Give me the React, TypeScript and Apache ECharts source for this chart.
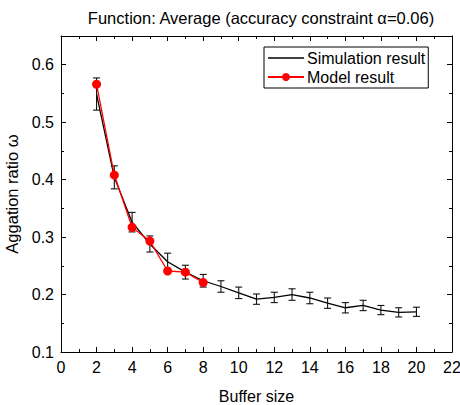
import React, { useEffect, useRef } from "react";
import * as echarts from "echarts";

const bufferSizes = [2, 3, 4, 5, 6, 7, 8, 9, 10, 11, 12, 13, 14, 15, 16, 17, 18, 19, 20];
const simulation = [0.549, 0.404, 0.326, 0.288, 0.257, 0.239, 0.224, 0.214, 0.203, 0.192, 0.195, 0.2, 0.194, 0.185, 0.177, 0.181, 0.173, 0.169, 0.17];
const simError = [0.028, 0.02, 0.017, 0.014, 0.015, 0.012, 0.011, 0.01, 0.01, 0.009, 0.009, 0.01, 0.01, 0.009, 0.009, 0.009, 0.008, 0.008, 0.008];
const modelSizes = [2, 3, 4, 5, 6, 7, 8];
const model = [0.566, 0.408, 0.317, 0.293, 0.241, 0.239, 0.221];

const FONT = "Liberation Sans, Arial, sans-serif";

export default function App() {
  const ref = useRef<HTMLDivElement>(null);
  useEffect(() => {
    if (!ref.current) return;
    const chart = echarts.init(ref.current, undefined, { renderer: "svg" });
    const axisCommon = {
      axisLine: { show: true, onZero: false, lineStyle: { color: "#000", width: 1 } },
      axisTick: { show: true, inside: true, length: 5, lineStyle: { color: "#000" } },
      minorTick: { show: true, splitNumber: 2, length: 3, lineStyle: { color: "#000" } },
      splitLine: { show: false },
    };
    chart.setOption({
      animation: false,
      backgroundColor: "#fff",
      title: {
        text: "Function: Average (accuracy constraint α=0.06)",
        left: 256,
        top: 4,
        textAlign: "center",
        textStyle: { fontFamily: FONT, fontSize: 16.5, fontWeight: "normal", color: "#000" },
      },
      legend: {
        orient: "vertical",
        left: 264,
        top: 47,
        borderColor: "#000",
        borderWidth: 1,
        borderRadius: 0,
        padding: [3, 3, 3, 3],
        itemGap: 3,
        itemWidth: 36,
        itemHeight: 10,
        textStyle: { fontFamily: FONT, fontSize: 16, color: "#000", padding: [0, 0, 0, -2] },
        data: [
          {
            name: "Simulation result",
            itemStyle: { color: "rgba(0,0,0,0)", borderColor: "rgba(0,0,0,0)", borderWidth: 0 },
            lineStyle: { color: "#000", width: 1.3 },
          },
          { name: "Model result" },
        ],
      },
      grid: { left: 61, right: 8, top: 36, bottom: 53, containLabel: false, outerBoundsMode: "none" },
      xAxis: [
        {
          type: "value",
          min: 0,
          max: 22,
          interval: 2,
          name: "Buffer size",
          nameLocation: "middle",
          nameGap: 36,
          nameTextStyle: { fontFamily: FONT, fontSize: 16, color: "#000" },
          axisLabel: { fontFamily: FONT, fontSize: 16, color: "#000", margin: 7 },
          ...axisCommon,
        },
        {
          type: "value",
          position: "top",
          min: 0,
          max: 22,
          interval: 2,
          axisLabel: { show: false },
          ...axisCommon,
        },
      ],
      yAxis: [
        {
          type: "value",
          min: 0.1,
          max: 0.65,
          interval: 0.1,
          name: "Aggation ratio ω",
          nameLocation: "middle",
          nameGap: 33,
          nameTextStyle: { fontFamily: FONT, fontSize: 16.5, color: "#000" },
          axisLabel: {
            fontFamily: FONT,
            fontSize: 16,
            color: "#000",
            margin: 7,
            formatter: (v: number) => (v > 0.62 ? "" : v.toFixed(1)),
          },
          ...axisCommon,
        },
        {
          type: "value",
          position: "right",
          min: 0.1,
          max: 0.65,
          interval: 0.1,
          axisLabel: { show: false },
          ...axisCommon,
        },
      ],
      series: [
        {
          name: "Simulation result",
          type: "line",
          data: bufferSizes.map((x, i) => [x, simulation[i]]),
          showSymbol: false,
          symbol: "none",
          lineStyle: { color: "#000", width: 1.3 },
          itemStyle: { color: "#000" },
          z: 2,
        },
        {
          name: "errors",
          type: "custom",
          data: bufferSizes.map((x, i) => [x, simulation[i] - simError[i], simulation[i] + simError[i]]),
          renderItem: (params: any, api: any) => {
            const x = api.value(0);
            const lo = api.coord([x, api.value(1)]);
            const hi = api.coord([x, api.value(2)]);
            const w = 3.5;
            const style = { stroke: "#111", lineWidth: 1.1, fill: "none" };
            return {
              type: "group",
              children: [
                { type: "line", shape: { x1: lo[0], y1: lo[1], x2: hi[0], y2: hi[1] }, style },
                { type: "line", shape: { x1: lo[0] - w, y1: lo[1], x2: lo[0] + w, y2: lo[1] }, style },
                { type: "line", shape: { x1: hi[0] - w, y1: hi[1], x2: hi[0] + w, y2: hi[1] }, style },
              ],
            };
          },
          z: 3,
          silent: true,
        },
        {
          name: "Model result",
          type: "line",
          data: modelSizes.map((x, i) => [x, model[i]]),
          symbol: "circle",
          symbolSize: 9,
          showSymbol: true,
          lineStyle: { color: "#ff0000", width: 1.3 },
          itemStyle: { color: "#ff0000" },
          z: 4,
        },
      ],
    });
    return () => chart.dispose();
  }, []);
  return <div ref={ref} style={{ position: "absolute", left: 0, top: 0, width: 460, height: 405 }} />;
}
